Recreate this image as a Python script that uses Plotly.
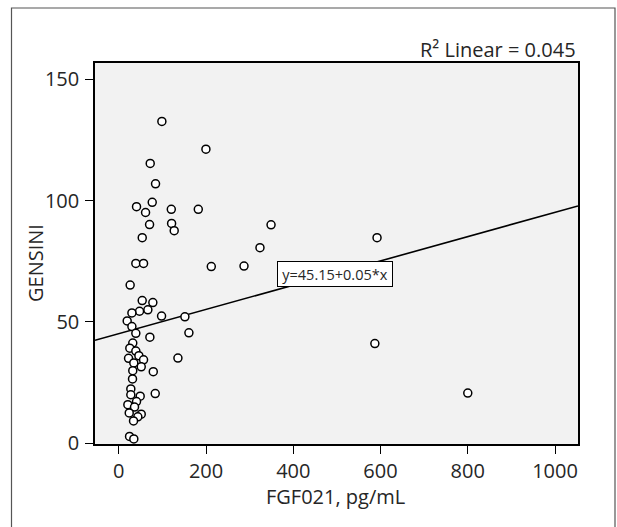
import plotly.graph_objects as go

# Scatter data
fgf021 = [98.7, 199.7, 72.0, 84.2, 76.6, 40.6, 61.3, 120.3, 182.2, 70.5,
          121.0, 127.0, 53.7, 39.0, 56.7, 212.0,
          349.0, 323.6, 287.0,
          592.0, 587.0, 800.0,
          26.0, 53.6, 78.0, 47.5, 66.6, 30.0, 98.0, 151.5, 19.2, 30.0,
          39.0, 160.7, 71.2, 32.0, 25.2, 39.0, 46.0, 22.3, 56.7, 135.5,
          34.4, 51.4, 32.0, 79.0, 31.4, 27.5, 27.5, 49.0, 83.5, 40.6,
          20.7, 36.0, 23.9, 51.4, 43.6, 33.7, 24.6, 34.4]
gensini = [132.6, 121.2, 115.3, 106.9, 99.3, 97.5, 95.1, 96.4, 96.4, 90.1,
           90.6, 87.6, 84.7, 74.1, 74.1, 72.8,
           90.0, 80.6, 73.0,
           84.7, 41.1, 20.7,
           65.2, 58.8, 58.0, 54.4, 55.0, 53.7, 52.4, 52.1, 50.4, 48.1,
           45.3, 45.5, 43.7, 41.3, 39.2, 38.0, 36.1, 35.0, 34.4, 35.1,
           33.1, 31.5, 29.9, 29.5, 26.5, 22.4, 20.0, 19.4, 20.5, 17.2,
           15.9, 14.9, 12.5, 12.0, 10.9, 9.2, 2.8, 1.8]

# Linear fit shown in the chart
intercept = 45.15
slope = 0.05
r2_text = "R² Linear = 0.045"
fit_label = "y=45.15+0.05*x"

x_ticks = [0, 200, 400, 600, 800, 1000]
y_ticks = [0, 50, 100, 150]
x_range = [-54.6, 1052.7]
y_range = [-0.3, 156.7]

FONT = "Open Sans"
TXT = "#262626"

fit_x = x_range
fit_y = [intercept + slope * v for v in fit_x]

fig = go.Figure()
fig.add_trace(go.Scatter(
    x=fit_x, y=fit_y, mode="lines",
    line=dict(color="black", width=1.6),
    hoverinfo="skip", showlegend=False))
fig.add_trace(go.Scatter(
    x=fgf021, y=gensini, mode="markers",
    marker=dict(size=8, color="white", line=dict(color="black", width=1.5)),
    showlegend=False, cliponaxis=False))

L, R, T, B = 95, 39, 63, 83
W, H = 617, 527
pw, ph = W - L - R, H - T - B

def px_x(p):
    return (p - L) / pw

def px_y(p):
    return (H - B - p) / ph

axis_common = dict(
    showline=True, linecolor="black", linewidth=1.5, mirror=True,
    ticks="outside", ticklen=8, tickwidth=1.2, tickcolor="black",
    showgrid=False, zeroline=False,
    tickfont=dict(family=FONT, size=20, color=TXT),
)

fig.update_layout(
    width=W, height=H,
    margin=dict(l=L, r=R, t=T, b=B),
    paper_bgcolor="white",
    plot_bgcolor="#F2F2F2",
    xaxis=dict(range=x_range, tickvals=x_ticks,
               ticktext=[str(v) for v in x_ticks], **axis_common),
    yaxis=dict(range=y_range, tickvals=y_ticks,
               ticktext=[str(v) for v in y_ticks], ticklabelstandoff=2,
               **axis_common),
    font=dict(family=FONT, color=TXT),
    shapes=[dict(type="rect", xref="paper", yref="paper",
                 x0=px_x(11.5), x1=px_x(615), y0=px_y(560), y1=px_y(8),
                 line=dict(color="#555555", width=1.2), layer="below")],
    annotations=[
        dict(text=r2_text, xref="paper", yref="paper", x=1.0, y=px_y(50),
             xanchor="right", yanchor="middle", showarrow=False,
             font=dict(family=FONT, size=20, color=TXT)),
        dict(text="GENSINI", xref="paper", yref="paper", x=px_x(35),
             y=px_y(263), xanchor="center", yanchor="middle", textangle=-90,
             showarrow=False, font=dict(family=FONT, size=20, color=TXT)),
        dict(text="FGF021, pg/mL", xref="paper", yref="paper", x=px_x(335),
             y=px_y(496), xanchor="center", yanchor="middle",
             showarrow=False, font=dict(family=FONT, size=20, color=TXT)),
        dict(text=fit_label, xref="x", yref="y", x=495,
             y=intercept + slope * 495, xanchor="center", yanchor="middle",
             showarrow=False, bgcolor="white", bordercolor="black",
             borderwidth=1, borderpad=2, width=110, height=20,
             font=dict(family=FONT, size=14.5, color=TXT)),
    ],
)

fig.write_html(
    "out.html",
    config={"displayModeBar": False},
    post_script="document.body.style.margin='0';"
                "document.body.style.overflow='hidden';",
)
